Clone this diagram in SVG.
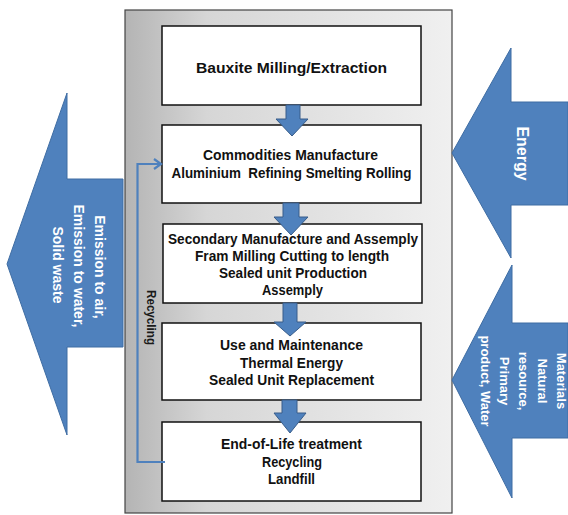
<svg xmlns="http://www.w3.org/2000/svg" width="568" height="515" viewBox="0 0 568 515">
<defs>
<linearGradient id="bg" x1="0" y1="0" x2="1" y2="0">
<stop offset="0" stop-color="#b4b4b4"/>
<stop offset="0.25" stop-color="#d6d6d6"/>
<stop offset="1" stop-color="#f0f0f0"/>
</linearGradient>
<marker id="open" markerWidth="10" markerHeight="12" refX="8" refY="6" orient="auto" markerUnits="userSpaceOnUse">
<path d="M1,1 L8,6 L1,11" fill="none" stroke="#4f81bd" stroke-width="2.2"/>
</marker>
</defs>
<style>
.box{fill:#fff;stroke:#111;stroke-width:1.5}
.bt{font-family:"Liberation Sans",Arial,sans-serif;font-weight:bold;font-size:15px;fill:#111;text-anchor:middle}
.big{fill:#4f81bd;stroke:#3f6da3;stroke-width:1}
.wt{font-family:"Liberation Sans",Arial,sans-serif;font-weight:bold;fill:#fff;text-anchor:middle}
.dn{fill:#4f81bd;stroke:#385d8a;stroke-width:1}
</style>
<rect width="568" height="515" fill="#fff"/>
<g id="container">
<rect x="125" y="10" width="327" height="503" fill="url(#bg)" stroke="#444" stroke-width="1.2"/>
</g>
<g id="emission">
<path class="big" d="M7,264 L67,93 L67,179 L123,179 L123,347 L67,347 L67,435 Z"/>
<text class="wt" font-size="14" transform="translate(95,267) rotate(90)">Emission to air,</text>
<text class="wt" font-size="14" transform="translate(74,266) rotate(90)">Emission to water,</text>
<text class="wt" font-size="14" transform="translate(53,265) rotate(90)">Solid waste</text>
</g>
<g id="energy">
<path class="big" d="M452,153 L511,48 L511,102 L568,102 L568,205 L511,205 L511,258 Z"/>
<text class="wt" font-size="16" transform="translate(517,153.5) rotate(90)">Energy</text>
</g>
<g id="materials">
<path class="big" d="M452,380 L512,265 L512,323 L568,323 L568,438 L512,438 L512,498 Z"/>
<text class="wt" font-size="13" transform="translate(557,381) rotate(90)">Materials</text>
<text class="wt" font-size="13" transform="translate(538,381) rotate(90)">Natural</text>
<text class="wt" font-size="13" transform="translate(519,381) rotate(90)">resource,</text>
<text class="wt" font-size="13" transform="translate(500,381) rotate(90)">Primary</text>
<text class="wt" font-size="13" transform="translate(481,381) rotate(90)">product, Water</text>
</g>
<g id="box1">
<rect class="box" x="162" y="26" width="259" height="79"/>
<text class="bt" x="291.5" y="72.5" textLength="191" lengthAdjust="spacingAndGlyphs">Bauxite Milling/Extraction</text>
</g>
<g id="box2">
<rect class="box" x="162" y="125" width="259" height="78"/>
<text class="bt" x="290.5" y="159.5" textLength="175" lengthAdjust="spacingAndGlyphs">Commodities Manufacture</text>
<text class="bt" x="291.5" y="177.5" textLength="240" lengthAdjust="spacingAndGlyphs" xml:space="preserve">Aluminium  Refining Smelting Rolling</text>
</g>
<g id="box3">
<rect class="box" x="163" y="224" width="259" height="79"/>
<text class="bt" x="293" y="243.5" textLength="250" lengthAdjust="spacingAndGlyphs">Secondary Manufacture and Assemply</text>
<text class="bt" x="292" y="260.5" textLength="194" lengthAdjust="spacingAndGlyphs">Fram Milling Cutting to length</text>
<text class="bt" x="293" y="277.5" textLength="148" lengthAdjust="spacingAndGlyphs">Sealed unit Production</text>
<text class="bt" x="292.5" y="294.5" textLength="61" lengthAdjust="spacingAndGlyphs">Assemply</text>
</g>
<g id="box4">
<rect class="box" x="162" y="323" width="259" height="77"/>
<text class="bt" x="291.5" y="349.5" textLength="143" lengthAdjust="spacingAndGlyphs">Use and Maintenance</text>
<text class="bt" x="291.5" y="367.5" textLength="103" lengthAdjust="spacingAndGlyphs">Thermal Energy</text>
<text class="bt" x="291.5" y="384.5" textLength="165" lengthAdjust="spacingAndGlyphs">Sealed Unit Replacement</text>
</g>
<g id="box5">
<rect class="box" x="162" y="422" width="259" height="79"/>
<text class="bt" x="291.5" y="448.5" textLength="141" lengthAdjust="spacingAndGlyphs">End-of-Life treatment</text>
<text class="bt" x="292" y="466.5" textLength="60" lengthAdjust="spacingAndGlyphs">Recycling</text>
<text class="bt" x="291.5" y="483.5" textLength="47" lengthAdjust="spacingAndGlyphs">Landfill</text>
</g>
<g id="connectors">
<path class="dn" d="M286,105 L300,105 L300,119 L308,119 L292,136 L276,119 L286,119 Z"/>
<path class="dn" d="M283,203 L299,203 L299,217 L308,217 L291,235 L274,217 L283,217 Z"/>
<path class="dn" d="M283,303 L297,303 L297,322 L306,322 L290,336 L274,322 L283,322 Z"/>
<path class="dn" d="M282,400 L297,400 L297,413 L306,413 L290,433 L274,413 L282,413 Z"/>
<polyline points="165,462 137.5,462 137.5,164 161,164" fill="none" stroke="#4f81bd" stroke-width="2.2" marker-end="url(#open)"/>
<text font-family="'Liberation Sans',Arial,sans-serif" font-weight="bold" font-size="13" fill="#1a1a1a" text-anchor="middle" textLength="55" lengthAdjust="spacingAndGlyphs" transform="translate(147,317.5) rotate(90)">Recycling</text>
</g>
</svg>
